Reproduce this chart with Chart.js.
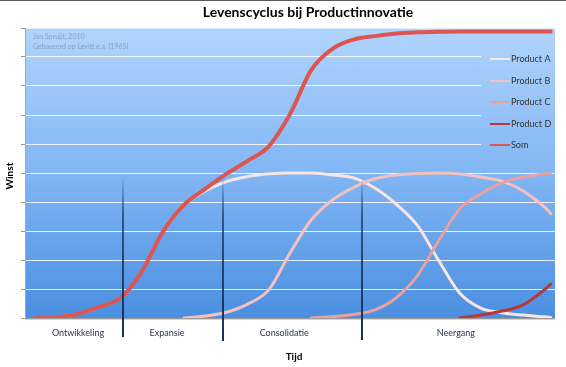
<!DOCTYPE html>
<html>
<head>
<meta charset="utf-8">
<script src="https://cdn.jsdelivr.net/npm/chart.js@4.4.1/dist/chart.umd.min.js"></script>
<style>
    html, body { margin: 0; padding: 0; background: #fff; }
    #wrap { width: 566px; height: 367px; position: relative; }
</style>
</head>
<body>
<div id="wrap"><canvas id="chart-levenscyclus"></canvas></div>
<script>
// Tijd (0-100) en winst (0-10) per product
var tijd      = [2, 6, 10, 14, 18, 22, 26, 30, 34, 38, 42, 46, 50, 54, 58, 62, 66, 70, 74, 78, 82, 86, 90, 94, 98, 99.2];
var productA  = [0, 0.03, 0.14, 0.38, 0.69, 1.59, 2.97, 3.9, 4.38, 4.7, 4.88, 4.97, 5.0, 5.0, 4.93, 4.83, 4.48, 3.93, 3.2, 2.0, 0.86, 0.34, 0.18, 0.1, 0.04, 0.02];
var productB  = [null, null, null, null, null, null, null, 0, 0.07, 0.2, 0.48, 0.97, 2.24, 3.38, 4.07, 4.5, 4.8, 4.93, 4.98, 5.0, 4.97, 4.86, 4.72, 4.38, 3.83, 3.6];
var productC  = [null, null, null, null, null, null, null, null, null, null, null, null, null, 0, 0.05, 0.12, 0.28, 0.69, 1.45, 2.65, 3.76, 4.28, 4.66, 4.86, 4.97, 5.0];
var productD  = [null, null, null, null, null, null, null, null, null, null, null, null, null, null, null, null, null, null, null, null, 0, 0.1, 0.24, 0.45, 0.97, 1.17];
var som       = [0, 0.03, 0.14, 0.38, 0.69, 1.59, 2.97, 3.9, 4.45, 4.97, 5.42, 5.92, 7.03, 8.55, 9.28, 9.6, 9.72, 9.81, 9.85, 9.87, 9.88, 9.88, 9.88, 9.88, 9.88, 9.88];

// fasen: grenzen en het midden van elk label (in tijd)
var faseGrenzen = [18.5, 37.3, 63.5];
var faseLabels  = ["Ontwikkeling", "Expansie", "Consolidatie", "Neergang"];
var faseMidden  = [10, 26.8, 48.9, 81.3];

function punten(waarden) {
    return tijd.map(function (t, i) { return { x: t, y: waarden[i] }; });
}

function plotVerloop(ctx, area) {
    var g = ctx.createLinearGradient(0, area.top, 0, area.bottom);
    g.addColorStop(0, "#b1d4fc");
    g.addColorStop(0.5, "#82b6f4");
    g.addColorStop(1, "#4a8fe0");
    return g;
}

var decor = {
    id: "decor",
    beforeDraw: function (chart) {
        var c = chart.ctx, a = chart.chartArea;
        c.save();
        c.fillStyle = "#fff";
        c.fillRect(0, 0, chart.width, chart.height);
        c.fillStyle = "#5a5a5a";
        c.fillRect(0, 0, chart.width, 1);
        c.fillStyle = plotVerloop(c, a);
        c.fillRect(a.left, a.top, a.right - a.left, a.bottom - a.top);
        c.restore();
    },
    beforeDatasetsDraw: function (chart) {
        // legenda-vlak over de rasterlijnen
        var c = chart.ctx, a = chart.chartArea;
        c.save();
        c.fillStyle = plotVerloop(c, a);
        c.fillRect(481, 48, a.right - 481, 108);
        c.restore();
    },
    afterDatasetsDraw: function (chart) {
        var c = chart.ctx, a = chart.chartArea, x = chart.scales.x;
        c.save();
        // onderas
        c.fillStyle = "#9c9c9c";
        c.fillRect(a.left, a.bottom, a.right - a.left, 1);
        c.fillStyle = "#d4d4d4";
        c.fillRect(a.left, a.bottom + 1, a.right - a.left, 1);
        // fasegrenzen
        var eind = [337, 341, 340];
        faseGrenzen.forEach(function (t, i) {
            var px = Math.round(x.getPixelForValue(t));
            var g = c.createLinearGradient(0, 176, 0, eind[i]);
            g.addColorStop(0, "rgba(20,50,95,0)");
            g.addColorStop(0.25, "rgba(22,58,105,0.75)");
            g.addColorStop(1, "rgba(16,46,88,1)");
            c.fillStyle = g;
            c.fillRect(px - 1, 176, 2, eind[i] - 176);
        });
        c.restore();
    },
    afterDraw: function (chart) {
        var c = chart.ctx, x = chart.scales.x;
        c.save();
        c.textBaseline = "middle";

        c.fillStyle = "#000";
        c.textAlign = "center";
        c.font = "bold 14px Lato";
        c.fillText("Levenscyclus bij Productinnovatie", 308, 12);

        c.font = "bold 10px Lato";
        c.fillText("Tijd", 294, 357);
        c.save();
        c.translate(10, 176);
        c.rotate(-Math.PI / 2);
        c.fillText("Winst", 0, 0);
        c.restore();

        c.font = "9px Lato";
        c.fillStyle = "#26364f";
        faseLabels.forEach(function (l, i) {
            c.fillText(l, x.getPixelForValue(faseMidden[i]), 333);
        });

        c.textAlign = "left";
        c.font = "7px Lato";
        c.fillStyle = "#8fa3bf";
        c.fillText("Jan Spruijt, 2010", 33, 37);
        c.fillText("Gebaseerd op Levitt e.a. (1965)", 33, 47);

        // legenda
        var rijen = [59, 81, 102, 124, 145];
        c.font = "9px Lato";
        chart.data.datasets.forEach(function (ds, i) {
            c.strokeStyle = ds.borderColor;
            c.lineWidth = 2;
            c.beginPath();
            c.moveTo(490, rijen[i]);
            c.lineTo(510, rijen[i]);
            c.stroke();
            c.fillStyle = "#333";
            c.fillText(ds.label, 511, rijen[i] + 0.5);
        });
        c.restore();
    }
};

var ctx = document.getElementById("chart-levenscyclus").getContext("2d");
var myChart = new Chart(ctx, {
    type: "line",
    data: {
        datasets: [
            { label: "Product A", data: punten(productA), borderColor: "rgb(250,228,228)", borderWidth: 3, order: 4 },
            { label: "Product B", data: punten(productB), borderColor: "rgb(244,192,192)", borderWidth: 3, order: 3 },
            { label: "Product C", data: punten(productC), borderColor: "rgb(233,160,160)", borderWidth: 3, order: 2 },
            { label: "Product D", data: punten(productD), borderColor: "rgb(185,55,55)", borderWidth: 3, order: 1 },
            { label: "Som", data: punten(som), borderColor: "rgb(221,85,80)", borderWidth: 4, order: 0 }
        ]
    },
    options: {
        responsive: true,
        maintainAspectRatio: false,
        animation: false,
        layout: {
            padding: { left: 21, top: 28, right: 11, bottom: 49 }
        },
        elements: {
            point: { radius: 0 },
            line: { cubicInterpolationMode: "monotone", fill: false, borderCapStyle: "round" }
        },
        plugins: {
            legend: { display: false },
            tooltip: { enabled: false }
        },
        scales: {
            x: {
                type: "linear",
                min: 0,
                max: 100,
                display: false
            },
            y: {
                min: 0,
                max: 10,
                ticks: { display: false, stepSize: 1 },
                border: { color: "#a8a8a8" },
                grid: {
                    tickLength: 4,
                    tickColor: "#9a9a9a",
                    lineWidth: 1,
                    color: function (c) {
                        if (c.tick.value === 0) return "rgba(0,0,0,0)";
                        if (c.tick.value === 10) return "rgba(225,240,255,0.9)";
                        return "rgba(255,255,255,0.85)";
                    }
                }
            }
        }
    },
    plugins: [decor]
});
</script>
</body>
</html>
